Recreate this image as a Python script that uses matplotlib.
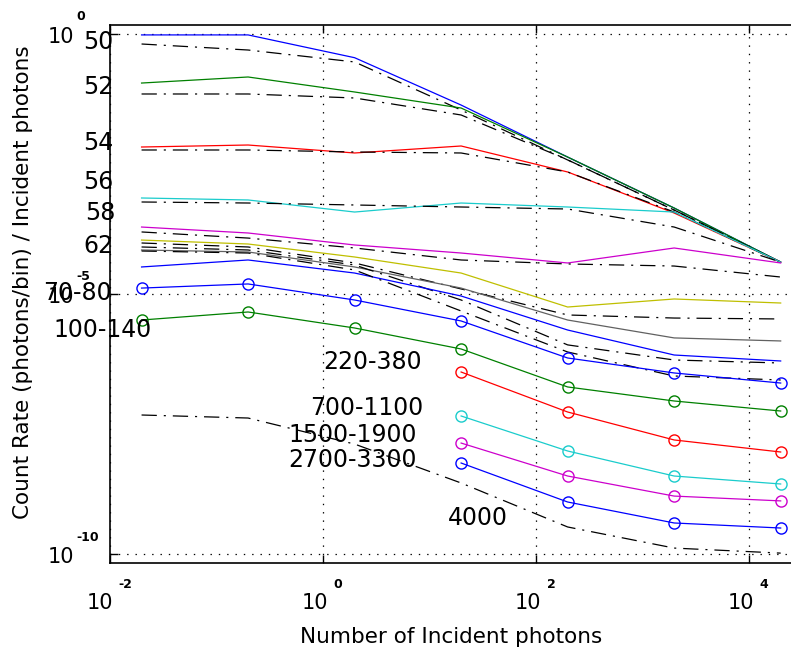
import numpy as np
import matplotlib
matplotlib.use("Agg")
import matplotlib.pyplot as plt
from matplotlib.transforms import offset_copy

plt.rcParams['font.family'] = ['DejaVu Sans']
plt.rcParams['lines.scale_dashes'] = False

# number of incident photons (x values of every curve)
N = [0.02, 0.2, 2, 20, 200, 2000, 20000]
N_hi = [20, 200, 2000, 20000]

# measured curves, solid, no markers
rate_50 = [0.96, 0.96, 0.35, 0.043, 0.0043, 4.5e-4, 4.1e-5]
rate_52 = [0.114, 0.149, 0.0767, 0.0377, 0.0043, 4.5e-4, 4.1e-5]
rate_54 = [6.71e-3, 7.33e-3, 5.15e-3, 7.02e-3, 2.22e-3, 3.61e-4, 4.1e-5]
rate_56 = [7.02e-4, 6.43e-4, 3.77e-4, 5.62e-4, 4.71e-4, 3.77e-4, 4.1e-5]
rate_58 = [1.94e-4, 1.49e-4, 8.76e-5, 6.14e-5, 3.95e-5, 7.67e-5, 3.95e-5]
rate_62 = [1.09e-4, 9.15e-5, 5.15e-5, 2.53e-5, 5.62e-6, 8.02e-6, 6.71e-6]
rate_64 = [7.02e-5, 6.43e-5, 3.31e-5, 1.30e-5, 3.16e-6, 1.43e-6, 1.25e-6]
rate_66 = [3.31e-5, 4.51e-5, 2.53e-5, 9.15e-6, 2.03e-6, 6.71e-7, 5.15e-7]

# model curves, black dash-dot
model_50 = [0.642, 0.492, 0.29, 0.0345, 3.78e-3, 4.12e-4, 4.1e-5]
model_52 = [0.0702, 0.0702, 0.0588, 0.0277, 3.8e-3, 4.1e-4, 4.1e-5]
model_54 = [5.88e-3, 5.88e-3, 5.38e-3, 5.15e-3, 2.22e-3, 3.77e-4, 4.1e-5]
model_56 = [5.88e-4, 5.62e-4, 5.15e-4, 4.71e-4, 4.31e-4, 1.94e-4, 4.1e-5]
model_58 = [1.56e-4, 1.19e-4, 7.67e-5, 4.51e-5, 3.78e-5, 3.45e-5, 2.12e-5]
model_62 = [9.57e-5, 8.02e-5, 3.95e-5, 1.25e-5, 3.95e-6, 3.45e-6, 3.31e-6]
model_64 = [8.02e-5, 7.02e-5, 3.61e-5, 7.67e-6, 1.05e-6, 5.38e-7, 4.71e-7]
model_66 = [6.71e-5, 6.14e-5, 2.9e-5, 4.71e-6, 7.67e-7, 2.65e-7, 2.22e-7]
model_4000 = [4.71e-8, 4.12e-8, 1.30e-8, 2.32e-9, 3.31e-10, 1.30e-10, 1.04e-10]

# measured curves with circle markers
rate_70_80 = [1.30e-5, 1.56e-5, 7.67e-6, 3.03e-6, 5.88e-7, 3.03e-7, 1.94e-7]
rate_100_140 = [3.16e-6, 4.51e-6, 2.22e-6, 8.76e-7, 1.63e-7, 8.76e-8, 5.62e-8]
rate_220_380 = [3.16e-7, 5.38e-8, 1.56e-8, 9.15e-9]
rate_700_1100 = [4.51e-8, 9.57e-9, 3.16e-9, 2.22e-9]
rate_1500_1900 = [1.36e-8, 3.16e-9, 1.30e-9, 1.05e-9]
rate_2700_3300 = [5.62e-9, 1.0e-9, 3.95e-10, 3.16e-10]

labels = ['50', '52', '54', '56', '58', '62', '70-80', '100-140', '220-380',
          '700-1100', '1500-1900', '2700-3300', '4000']
label_pos = [(5.7e-3, 0.70), (5.7e-3, 0.0957), (5.7e-3, 8.0e-3), (5.7e-3, 1.43e-3),
             (5.95e-3, 3.61e-4), (5.7e-3, 8.4e-5), (2.4e-3, 1.05e-5), (2.98e-3, 2.03e-6),
             (1.02, 4.92e-7), (0.77, 6.43e-8), (0.48, 1.94e-8), (0.48, 6.43e-9),
             (14.9, 4.92e-10)]

# old matlab colour order
b = (0, 0, 1)
g = (0, 0.5, 0)
r = (1, 0, 0)
c = (0.1, 0.8, 0.8)
m = (0.8, 0, 0.8)
y = (0.75, 0.75, 0)
k = (0.38, 0.38, 0.38)

fig = plt.figure(figsize=(7.91, 6.5), dpi=100)
ax = fig.add_axes([109.5 / 791, 1 - 563 / 650, 681.5 / 791, 538 / 650])

dashdot = (0, (11, 5, 1.5, 5))
lw = 0.9

solid = [(rate_50, b), (rate_52, g), (rate_54, r), (rate_56, c),
         (rate_58, m), (rate_62, y), (rate_64, k), (rate_66, b)]
models = [model_50, model_52, model_54, model_56, model_58, model_62,
          model_64, model_66]
for (vals, col), mod in zip(solid, models):
    ax.plot(N, vals, color=col, lw=lw)
    ax.plot(N, mod, color='k', lw=lw, ls=dashdot)

circ = [(N, rate_70_80, b), (N, rate_100_140, g), (N_hi, rate_220_380, r),
        (N_hi, rate_700_1100, c), (N_hi, rate_1500_1900, m), (N_hi, rate_2700_3300, b)]
for xs, vals, col in circ:
    ax.plot(xs, vals, color=col, lw=lw, marker='o', ms=8, mfc='none', mec=col, mew=1)

ax.plot(N, model_4000, color='k', lw=lw, ls=dashdot)

for txt, (tx, ty) in zip(labels, label_pos):
    ax.text(tx, ty, txt, fontsize=17, ha='left', va='center', clip_on=False)

ax.set_xscale('log')
ax.set_yscale('log')
ax.set_xlim(0.01, 2.5e4)
ax.set_ylim(10 ** -10.173, 10 ** 0.173)

xt = [1e-2, 1e0, 1e2, 1e4]
yt = [1e-10, 1e-5, 1e0]
ax.set_xticks(xt)
ax.set_yticks(yt)
ax.minorticks_off()
ax.set_xticklabels([])
ax.set_yticklabels([])
ax.tick_params(direction='in', length=6, width=1, top=True, right=False)
ax.grid(True, which='major', color='k', lw=0.9, ls=(0, (1, 5)))
ax.spines['right'].set_visible(False)
for s in ['left', 'top', 'bottom']:
    ax.spines[s].set_linewidth(1.2)

# matlab style tick labels: "10" with the exponent drawn above and to the right
for v in xt:
    e = str(int(np.log10(v)))
    dx = 4 if len(e) > 1 else 6
    tr = offset_copy(ax.get_xaxis_transform(), fig=fig, x=dx, y=-40, units='dots')
    ax.text(v, 0, '10', transform=tr, ha='right', va='center', fontsize=15, clip_on=False)
    tr = offset_copy(ax.get_xaxis_transform(), fig=fig, x=dx + 5, y=-21, units='dots')
    ax.text(v, 0, e, transform=tr, ha='left', va='center', fontsize=9,
            fontweight='bold', clip_on=False)
for v in yt:
    e = str(int(np.log10(v)))
    tr = offset_copy(ax.get_yaxis_transform(), fig=fig, x=-35, y=-3, units='dots')
    ax.text(0, v, '10', transform=tr, ha='right', va='center', fontsize=15, clip_on=False)
    tr = offset_copy(ax.get_yaxis_transform(), fig=fig, x=-33, y=17, units='dots')
    ax.text(0, v, e, transform=tr, ha='left', va='center', fontsize=9,
            fontweight='bold', clip_on=False)

fig.text(451 / 791, 7 / 650, 'Number of Incident photons', ha='center',
         va='baseline', fontsize=15.5)
fig.text(23 / 791, 1 - 282 / 650, 'Count Rate (photons/bin) / Incident photons',
         rotation=90, ha='center', va='center', fontsize=15.5)

fig.savefig('out.png', dpi=100)
